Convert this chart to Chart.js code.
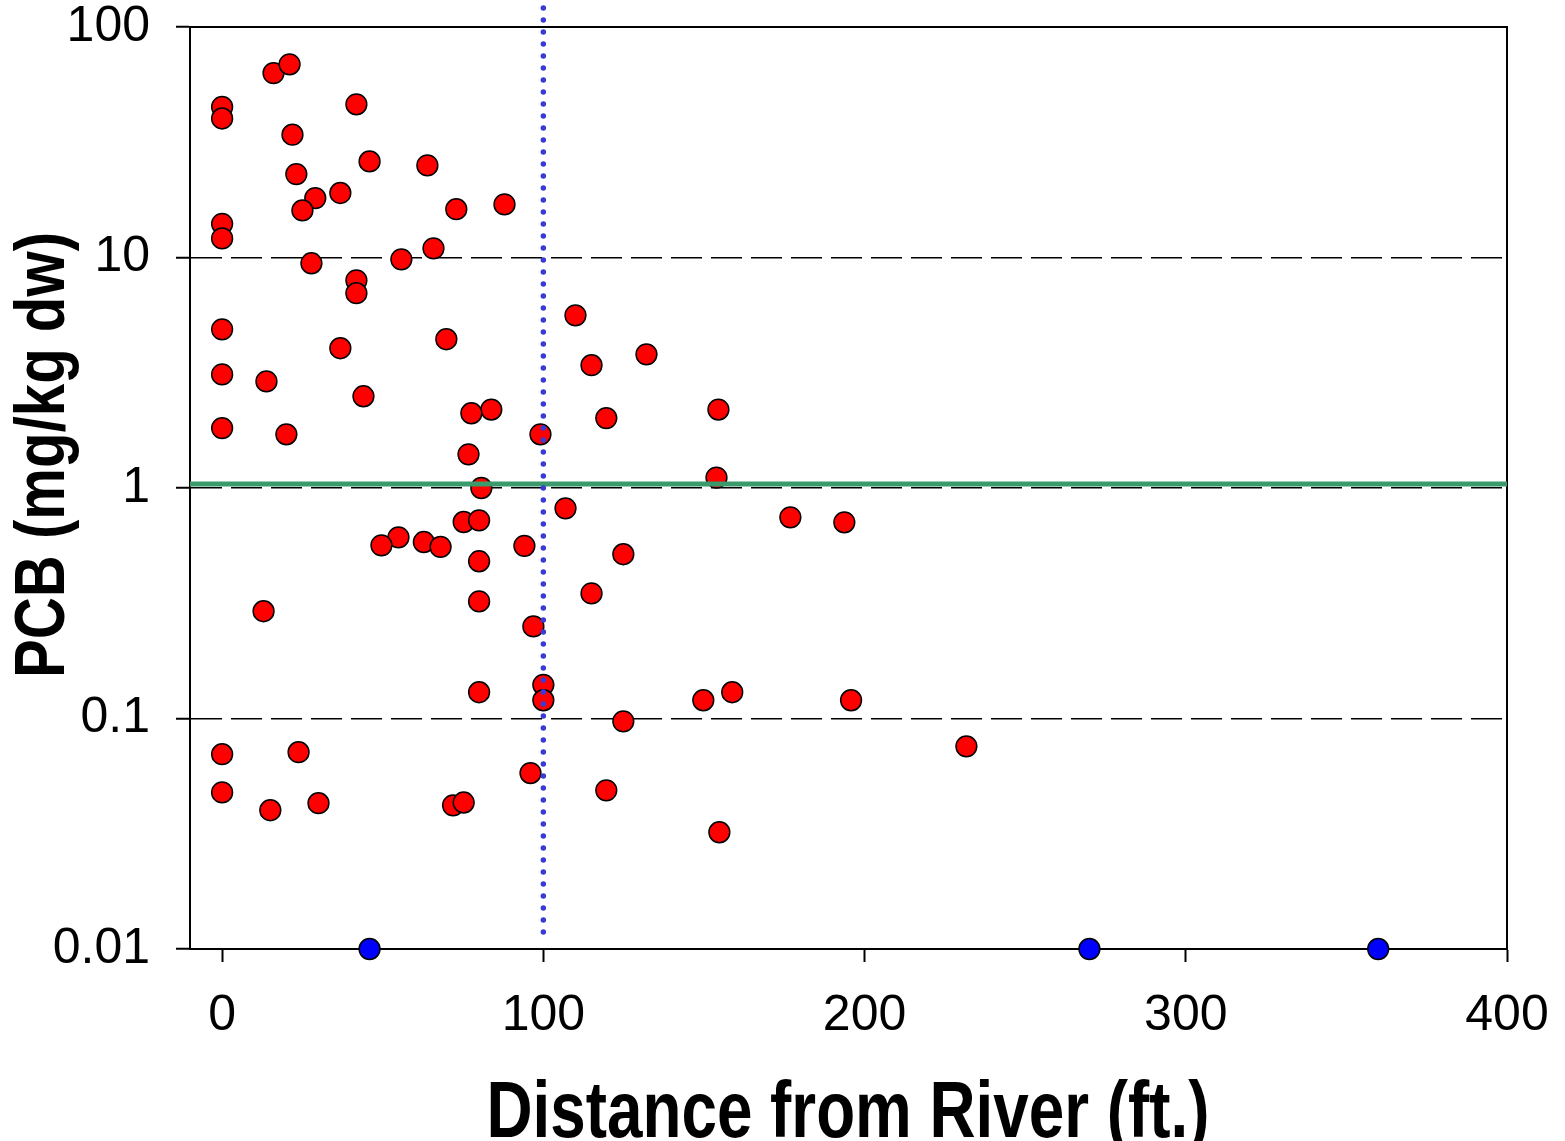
<!DOCTYPE html>
<html>
<head>
  <title>PCB vs Distance from River</title>
  <script src="https://cdn.jsdelivr.net/npm/chart.js"></script>
  <style>
    body { margin: 0; background: white; }
    canvas { display: block; }
  </style>
</head>
<body>
  <canvas id="chart" width="1565" height="1141"></canvas>
  <script>
    // samples (ft from river, PCB mg/kg dw)
    const distFt = [0, 0, 16, 21, 21.9, 41.8, 45.9, 63.9, 23.1, 36.8, 29, 25, 72.9, 87.9, 0, 0, 65.8, 27.8, 55.8, 41.8,
      41.8, 110, 0, 69.8, 36.8, 132.1, 115, 0, 13.8, 44, 83.8, 77.6, 154.5, 119.6, 0, 20, 99.1, 76.7, 153.9, 80.7,
      106.9, 176.9, 193.7, 75.2, 80, 54.9, 49.6, 62.8, 68, 94.1, 124.9, 80, 115, 80, 12.9, 96.9, 100, 80, 158.8, 100,
      149.8, 195.8, 124.9, 231.7, 0, 23.8, 96, 0, 119.6, 30, 15, 71.9, 75.2, 154.8];
    const pcb = [45, 40.1, 63.1, 68.9, 34.1, 46.2, 26.1, 25.1, 23, 19.05, 18.1, 16, 16.2, 17, 14, 12.1, 10.96, 9.44, 9.82, 7.96,
      7, 5.61, 4.88, 4.42, 4.04, 3.8, 3.41, 3.11, 2.9, 2.5, 2.19, 2.11, 2.19, 2.01, 1.82, 1.71, 1.71, 1.4, 1.11, 1.0,
      0.816, 0.746, 0.71, 0.712, 0.724, 0.611, 0.564, 0.583, 0.555, 0.561, 0.516, 0.481, 0.349, 0.322, 0.292, 0.251, 0.14, 0.13, 0.13, 0.12,
      0.12, 0.12, 0.0972, 0.0757, 0.07, 0.0714, 0.058, 0.0478, 0.0488, 0.0429, 0.04, 0.042, 0.0432, 0.0321];

    // non-detects plotted at the axis floor
    const ndDistFt = [45.9, 270, 359.9];
    const ndPcb = [0.01, 0.01, 0.01];

    const screeningLevel = 1.04;
    const boundaryFt = 100;
    const boundarySpan = [121, 0.0117];

    const xTicks = [0, 100, 200, 300, 400];
    const yTicks = [0.01, 0.1, 1, 10, 100];
    const yTickLabels = ["0.01", "0.1", "1", "10", "100"];
    const xTitle = "Distance from River (ft.)";
    const yTitle = "PCB (mg/kg dw)";

    const FONT = '"Liberation Sans", Arial, sans-serif';

    const toPts = (xs, ys) => xs.map((x, i) => ({ x: x, y: ys[i] }));

    // squeeze text to a given width (titles use a narrow bold face)
    function squeezed(ctx, text, x, y, width) {
      const w = ctx.measureText(text).width;
      ctx.save();
      ctx.translate(x, y);
      ctx.scale(width / w, 1);
      ctx.textAlign = "center";
      ctx.fillText(text, 0, 0);
      ctx.restore();
    }

    const frame = {
      id: "frame",
      beforeDatasetsDraw(chart) {
        const a = chart.chartArea, ctx = chart.ctx;
        ctx.save();
        ctx.strokeStyle = "#000";
        ctx.lineWidth = 2;
        ctx.strokeRect(a.left, a.top, a.right - a.left, a.bottom - a.top);
        ctx.restore();
      },
      afterDraw(chart) {
        const ctx = chart.ctx;
        ctx.save();
        ctx.fillStyle = "#000";
        ctx.textBaseline = "alphabetic";
        ctx.font = "bold 80px " + FONT;
        squeezed(ctx, xTitle, 848, 1137, 723);
        ctx.font = "bold 70px " + FONT;
        ctx.translate(64, 455);
        ctx.rotate(-Math.PI / 2);
        squeezed(ctx, yTitle, 0, 0, 446);
        ctx.restore();
      }
    };

    new Chart(document.getElementById("chart"), {
      type: "scatter",
      data: {
        datasets: [
          {
            type: "line",
            data: [{ x: boundaryFt, y: boundarySpan[0] }, { x: boundaryFt, y: boundarySpan[1] }],
            borderColor: "#3b3bd4",
            borderWidth: 5.5,
            borderDash: [0, 12],
            borderCapStyle: "round",
            pointRadius: 0,
            clip: false,
            order: 0
          },
          {
            type: "line",
            data: [{ x: -10, y: screeningLevel }, { x: 400, y: screeningLevel }],
            borderColor: "#3a9a6b",
            borderWidth: 5,
            pointRadius: 0,
            order: 1
          },
          {
            data: toPts(distFt, pcb),
            backgroundColor: "#ff0000",
            borderColor: "#000",
            borderWidth: 1.5,
            pointRadius: 10.4,
            clip: false,
            order: 2
          },
          {
            data: toPts(ndDistFt, ndPcb),
            backgroundColor: "#0000ff",
            borderColor: "#000",
            borderWidth: 1.5,
            pointRadius: 10.4,
            clip: false,
            order: 3
          }
        ]
      },
      options: {
        responsive: false,
        animation: false,
        events: [],
        layout: { padding: { top: 27, right: 58, left: 0, bottom: 0 } },
        plugins: { legend: { display: false }, tooltip: { enabled: false } },
        scales: {
          x: {
            type: "linear",
            min: -10,
            max: 400,
            afterBuildTicks: s => { s.ticks = xTicks.map(v => ({ value: v })); },
            afterFit: s => { s.height = 192; s.paddingLeft = 0; s.paddingRight = 0; },
            ticks: { color: "#000", font: { family: FONT, size: 50, lineHeight: 1.2 }, padding: 24, maxRotation: 0 },
            grid: { drawOnChartArea: false, tickLength: 13, tickWidth: 2, tickColor: "#000" },
            border: { color: "#000", width: 2 }
          },
          y: {
            type: "logarithmic",
            min: 0.01,
            max: 100,
            afterBuildTicks: s => { s.ticks = yTicks.map(v => ({ value: v })); },
            afterFit: s => { s.width = 190; s.paddingTop = 0; s.paddingBottom = 0; },
            ticks: {
              color: "#000",
              font: { family: FONT, size: 50, lineHeight: 1 },
              padding: 26,
              callback: (v, i) => yTickLabels[i]
            },
            grid: {
              color: c => (c.tick && [0.1, 1, 10].includes(c.tick.value)) ? "#000" : "rgba(0,0,0,0)",
              lineWidth: 1.5,
              tickLength: 14,
              tickWidth: 2,
              tickColor: "#000"
            },
            border: { color: "#000", width: 2, dash: [31, 9] }
          }
        }
      },
      plugins: [frame]
    });
  </script>
</body>
</html>
